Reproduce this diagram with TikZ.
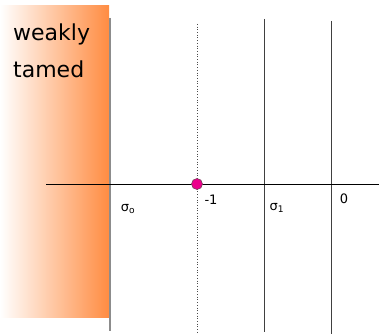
\documentclass[tikz,border=0pt]{standalone}
\usepackage{fontspec}
\setmainfont{DejaVu Sans}
\begin{document}
\begin{tikzpicture}[x=1pt,y=-1pt,
  vline/.style={draw=black!75,line width=0.9pt},
  lbl/.style={font=\fontsize{13}{15}\selectfont,inner sep=0pt},
  big/.style={font=\fontsize{22}{26}\selectfont,inner sep=0pt,anchor=west}]
\useasboundingbox (0,0) rectangle (379,334);
% shaded region
\shade[left color=white,right color={rgb,255:red,255;green,140;blue,66}] (0,6) rectangle (109,317);
% vertical lines
\coordinate (s0t) at (110,18); \coordinate (s0b) at (110,331);
\coordinate (mt) at (197,24);  \coordinate (mb) at (197,334);
\coordinate (s1t) at (264,19); \coordinate (s1b) at (264,332);
\coordinate (zt) at (331,21);  \coordinate (zb) at (331,334);
\draw[draw=black!45,line width=1.4pt] (s0t) -- (s0b);
\draw[black!70,line width=0.7pt,dotted] (mt) -- (mb);
\draw[vline] (s1t) -- (s1b);
\draw[vline] (zt) -- (zb);
% axis
\coordinate (al) at (46,184); \coordinate (ar) at (379,184);
\draw[black,line width=0.9pt] (al) -- (ar);
% point
\node[circle,fill=magenta,draw=black!60!magenta,line width=0.6pt,minimum size=11pt,inner sep=0pt] (pt) at (197,184) {};
% labels
\node[lbl] (l0) at (128,209) {σ\textsubscript{o}};
\node[lbl] (lm) at (211,200) {-1};
\node[lbl] (l1) at (277,208) {σ\textsubscript{1}};
\node[lbl] (lz) at (344,199) {0};
\node[big] (w) at (13,34) {weakly};
\node[big] (t) at (13,69) {tamed};
\end{tikzpicture}
\end{document}
